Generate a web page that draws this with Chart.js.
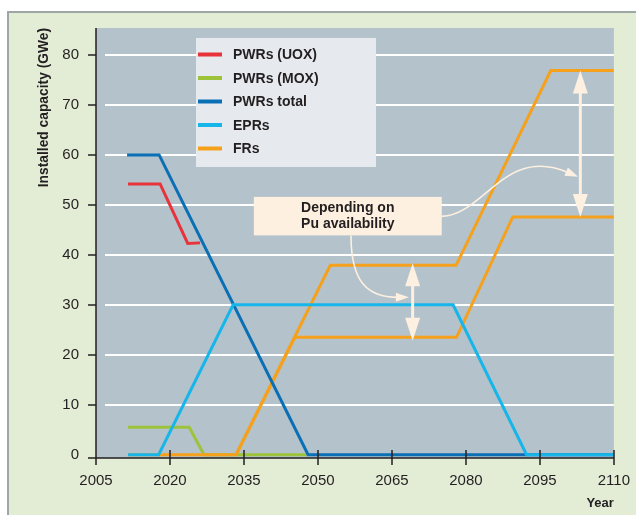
<!DOCTYPE html>
<html>
<head>
<meta charset="utf-8">
<script src="https://cdn.jsdelivr.net/npm/chart.js@4.4.1/dist/chart.umd.min.js"></script>
<style>
  html, body { margin: 0; padding: 0; background: #fff; }
  #panel { position: absolute; left: 7px; top: 11px; width: 629px; height: 504px; background: #e3edd6;
           border-left: 2px solid #9ea7a6; border-top: 2px solid #9ea7a6; box-sizing: border-box; }
  #wrap { position: absolute; left: 0; top: 0; width: 636px; height: 515px; }
</style>
</head>
<body>
<div id="panel"></div>
<div id="wrap"><canvas id="chart"></canvas></div>
<script>
// series (year, GWe)
const uoxYears = [2011.5, 2018.0, 2023.6, 2026.1];
const uoxGWe   = [54.2, 54.2, 42.3, 42.4];

const moxYears = [2011.5, 2023.9, 2026.9, 2047.7];
const moxGWe   = [5.5, 5.5, 0, 0];

const pwrYears = [2011.3, 2017.8, 2048.0, 2110];
const pwrGWe   = [60, 60, 0, 0];

const eprYears = [2011.5, 2017.7, 2032.8, 2077.4, 2092.3, 2110];
const eprGWe   = [0, 0, 30, 30, 0, 0];

const frLowYears  = [2011.5, 2033.4, 2045.3, 2078.1, 2089.5, 2110];
const frLowGWe    = [0, 0, 23.5, 23.5, 47.6, 47.6];
const frHighYears = [2033.4, 2052.5, 2078.0, 2097.2, 2110];
const frHighGWe   = [0, 37.9, 37.9, 76.9, 76.9];

const legendNames  = ['PWRs (UOX)', 'PWRs (MOX)', 'PWRs total', 'EPRs', 'FRs'];
const legendColors = ['#e8333a', '#9dc33b', '#0a6fb5', '#16b6ea', '#f5a11c'];

const xTickValues = [2005, 2020, 2035, 2050, 2065, 2080, 2095, 2110];
const yTickValues = [0, 10, 20, 30, 40, 50, 60, 70, 80];

const noteLines = ['Depending on', 'Pu availability'];

const FONT = "'Liberation Sans', Arial, Helvetica, sans-serif";
const INK = '#231f20';
const CREAM = '#fdf0e0';

function pts(xs, ys) {
    return xs.map((x, i) => ({ x: x, y: ys[i] }));
}

function line(label, xs, ys, color) {
    return {
        label: label,
        data: pts(xs, ys),
        borderColor: color,
        backgroundColor: color,
        borderWidth: 3,
        pointRadius: 0,
        fill: false,
        tension: 0
    };
}

// first dataset is drawn on top
const datasets = [
    line('EPRs', eprYears, eprGWe, legendColors[3]),
    line('PWRs total', pwrYears, pwrGWe, legendColors[2]),
    line('FRs', frLowYears, frLowGWe, legendColors[4]),
    line('FRs', frHighYears, frHighGWe, legendColors[4]),
    line('PWRs (UOX)', uoxYears, uoxGWe, legendColors[0]),
    line('PWRs (MOX)', moxYears, moxGWe, legendColors[1])
];

function arrowHead(ctx, tx, ty, dx, dy, len, wid) {
    const n = Math.hypot(dx, dy);
    dx /= n; dy /= n;
    const bx = tx - dx * len, by = ty - dy * len;
    ctx.beginPath();
    ctx.moveTo(tx, ty);
    ctx.lineTo(bx - dy * wid / 2, by + dx * wid / 2);
    ctx.lineTo(bx + dy * wid / 2, by - dx * wid / 2);
    ctx.closePath();
    ctx.fill();
}

function doubleArrow(ctx, x, yTop, yBot) {
    ctx.beginPath();
    ctx.moveTo(x, yTop + 15);
    ctx.lineTo(x, yBot - 15);
    ctx.lineWidth = 3;
    ctx.stroke();
    arrowHead(ctx, x, yTop, 0, -1, 23, 15);
    arrowHead(ctx, x, yBot, 0, 1, 23, 15);
}

function curveArrow(ctx, p) {
    ctx.beginPath();
    ctx.moveTo(p[0][0], p[0][1]);
    ctx.bezierCurveTo(p[1][0], p[1][1], p[2][0], p[2][1], p[3][0], p[3][1]);
    ctx.lineWidth = 1.6;
    ctx.stroke();
    const dx = p[3][0] - p[2][0], dy = p[3][1] - p[2][1];
    const n = Math.hypot(dx, dy);
    arrowHead(ctx, p[3][0] + dx / n * 11, p[3][1] + dy / n * 11, dx, dy, 13, 9);
}

const decor = {
    id: 'decor',
    beforeDatasetsDraw(chart) {
        const { ctx, chartArea: a, scales } = chart;
        ctx.save();
        ctx.fillStyle = '#b4c2cb';
        ctx.fillRect(a.left, a.top, a.right - a.left, a.bottom - a.top);
        ctx.strokeStyle = '#ffffff';
        ctx.lineWidth = 2;
        yTickValues.forEach(v => {
            if (v === 0) return;
            const y = Math.round(scales.y.getPixelForValue(v));
            ctx.beginPath();
            ctx.moveTo(a.left + 9, y);
            ctx.lineTo(a.right, y);
            ctx.stroke();
        });
        ctx.restore();
    },
    afterDatasetsDraw(chart) {
        const { ctx, chartArea: a, scales } = chart;
        const sx = v => scales.x.getPixelForValue(v);
        const sy = v => scales.y.getPixelForValue(v);
        ctx.save();

        // axes
        ctx.strokeStyle = INK;
        ctx.lineWidth = 1.5;
        ctx.beginPath();
        ctx.moveTo(a.left, a.top);
        ctx.lineTo(a.left, a.bottom + 7);
        ctx.moveTo(a.left - 8, a.bottom);
        ctx.lineTo(a.right, a.bottom);
        ctx.stroke();
        yTickValues.forEach(v => {
            if (v === 0) return;
            const y = Math.round(sy(v));
            ctx.beginPath();
            ctx.moveTo(a.left - 8, y);
            ctx.lineTo(a.left, y);
            ctx.stroke();
        });
        xTickValues.forEach(v => {
            if (v === xTickValues[0]) return;
            const x = Math.round(sx(v));
            ctx.beginPath();
            ctx.moveTo(x, a.bottom - 8);
            ctx.lineTo(x, a.bottom + 7);
            ctx.stroke();
        });

        // legend box
        const lx = a.left + 100, ly = a.top + 10;
        ctx.fillStyle = '#e6e9ee';
        ctx.fillRect(lx, ly, 180, 129);
        ctx.font = 'bold 14px ' + FONT;
        ctx.textBaseline = 'middle';
        ctx.textAlign = 'left';
        legendNames.forEach((name, i) => {
            const y = ly + 16.5 + i * 23.5;
            ctx.strokeStyle = legendColors[i];
            ctx.lineWidth = 4;
            ctx.beginPath();
            ctx.moveTo(lx + 2, y);
            ctx.lineTo(lx + 26, y);
            ctx.stroke();
            ctx.fillStyle = INK;
            ctx.fillText(name, lx + 37, y + 1);
        });

        // note about Pu availability
        const bx0 = sx(2037.0), bx1 = sx(2075.1), by0 = sy(51.6), by1 = sy(43.9);
        ctx.fillStyle = CREAM;
        ctx.fillRect(bx0, by0, bx1 - bx0, by1 - by0);
        ctx.fillStyle = INK;
        ctx.font = 'bold 14px ' + FONT;
        ctx.textAlign = 'center';
        ctx.fillText(noteLines[0], (bx0 + bx1) / 2, by0 + 11);
        ctx.fillText(noteLines[1], (bx0 + bx1) / 2, by0 + 27);

        ctx.strokeStyle = CREAM;
        ctx.fillStyle = CREAM;
        doubleArrow(ctx, sx(2069.2), sy(38.3), sy(22.8));
        doubleArrow(ctx, sx(2103.2), sy(76.9), sy(47.6));
        curveArrow(ctx, [[sx(2056.7), sy(43.9)], [sx(2056.7), sy(34.5)], [sx(2060.1), sy(31.5)], [sx(2066.2), sy(31.5)]]);
        curveArrow(ctx, [[sx(2075.1), sy(47.7)], [sx(2083.9), sy(48.1)], [sx(2087.9), sy(61.9)], [sx(2100.7), sy(56.5)]]);

        ctx.restore();
    }
};

new Chart(document.getElementById('chart'), {
    type: 'line',
    data: { datasets: datasets },
    options: {
        responsive: true,
        maintainAspectRatio: false,
        animation: false,
        layout: { padding: { left: 0, top: 28, right: 22, bottom: 0 } },
        plugins: { legend: { display: false }, tooltip: { enabled: false } },
        scales: {
            x: {
                type: 'linear',
                min: 2005,
                max: 2110,
                afterBuildTicks: s => { s.ticks = xTickValues.map(v => ({ value: v })); },
                afterFit: s => { s.height = 57; },
                grid: { display: true, drawOnChartArea: false, color: 'rgba(0,0,0,0)', tickLength: 8 },
                border: { display: false },
                ticks: { color: INK, font: { family: FONT, size: 15 }, padding: 6, maxRotation: 0, autoSkip: false,
                         callback: v => String(v) },
                title: { display: true, text: 'Year', align: 'end', color: INK,
                         font: { family: FONT, size: 13, weight: 'bold' }, padding: { top: 0, bottom: 4 } }
            },
            y: {
                min: -0.65,
                max: 85.4,
                afterBuildTicks: s => { s.ticks = yTickValues.map(v => ({ value: v })); },
                afterFit: s => { s.width = 96; },
                grid: { display: true, drawOnChartArea: false, color: 'rgba(0,0,0,0)', tickLength: 8 },
                border: { display: false },
                ticks: { color: INK, font: { family: FONT, size: 15 }, padding: 9, callback: v => String(v) },
                title: { display: true, text: 'Installed capacity (GWe)', align: 'end', color: INK,
                         font: { family: FONT, size: 13.8, weight: 'bold' }, padding: { top: 36, bottom: 0 } }
            }
        }
    },
    plugins: [decor]
});
</script>
</body>
</html>
